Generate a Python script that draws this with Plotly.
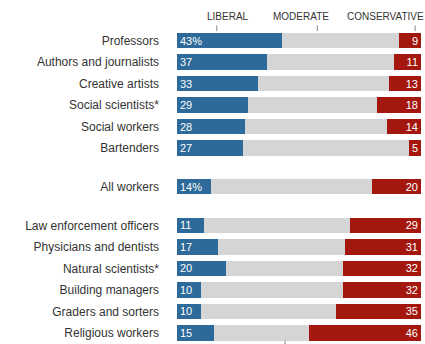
import plotly.graph_objects as go

# ---- data ----
group1 = ["Professors", "Authors and journalists", "Creative artists",
          "Social scientists*", "Social workers", "Bartenders"]
group1_lib = [43, 37, 33, 29, 28, 27]
group1_con = [9, 11, 13, 18, 14, 5]

group2 = ["All workers"]
group2_lib = [14]
group2_con = [20]

group3 = ["Law enforcement officers", "Physicians and dentists", "Natural scientists*",
          "Building managers", "Graders and sorters", "Religious workers"]
group3_lib = [11, 17, 20, 10, 10, 15]
group3_con = [29, 31, 32, 32, 35, 46]

header_labels = ["LIBERAL", "MODERATE", "CONSERVATIVE"]

# ---- build rows ----
groups = [(group1, group1_lib, group1_con),
          (group2, group2_lib, group2_con),
          (group3, group3_lib, group3_con)]
GAP = 0.8
cats, lib, con, ypos, ltxt = [], [], [], [], []
pos = 0.0
for gi, (names, l, c) in enumerate(groups):
    if gi > 0:
        pos += GAP
    for i, (n, lv, cv) in enumerate(zip(names, l, c)):
        cats.append(n)
        lib.append(lv)
        con.append(cv)
        ypos.append(pos)
        ltxt.append(f"{lv}%" if i == 0 and gi < 2 else str(lv))
        pos += 1
mod = [100 - a - b for a, b in zip(lib, con)]

BLUE = "#2d6a9a"
GRAY = "#d5d5d5"
RED = "#a3170f"
W = 0.72

fig = go.Figure()
fig.add_trace(go.Bar(y=ypos, x=lib, orientation="h", marker=dict(color=BLUE, line_width=0),
                     width=W, text=ltxt, textposition="inside", insidetextanchor="start",
                     textangle=0,
                     textfont=dict(color="white", size=11, family="Liberation Sans"),
                     hoverinfo="skip"))
fig.add_trace(go.Bar(y=ypos, x=mod, orientation="h", marker=dict(color=GRAY, line_width=0),
                     width=W, hoverinfo="skip"))
fig.add_trace(go.Bar(y=ypos, x=con, orientation="h", marker=dict(color=RED, line_width=0),
                     width=W, text=[str(v) for v in con], textposition="inside",
                     insidetextanchor="end", textangle=0,
                     textfont=dict(color="white", size=11, family="Liberation Sans"),
                     hoverinfo="skip"))

H = 344
TOP = 30
PH = H - TOP
slot = 21.5
first_center = 40.5
y_top = (TOP - first_center) / slot
y_bot = (H - first_center) / slot

fig.update_layout(
    barmode="stack",
    width=425, height=H,
    margin=dict(l=177, r=4, t=TOP, b=0),
    paper_bgcolor="white", plot_bgcolor="white",
    showlegend=False,
    font=dict(family="Liberation Sans", color="#333333"),
    uniformtext=dict(minsize=11, mode="show"),
)
fig.update_xaxes(range=[0, 100], visible=False, fixedrange=True)
fig.update_yaxes(range=[y_bot, y_top], tickvals=ypos, ticktext=cats,
                 showgrid=False, zeroline=False, showline=False,
                 ticks="", ticklabelstandoff=17, fixedrange=True,
                 tickfont=dict(size=12, color="#333333", family="Liberation Sans"))

# header labels and ticks
hdr_x = [20.7, 50.8, 68.9]
hdr_anchor = ["center", "center", "left"]
tick_x = [16.3, 57.5, 97.6]
for lab, hx, an in zip(header_labels, hdr_x, hdr_anchor):
    fig.add_annotation(x=hx, xref="x", y=1 + (TOP - 16.5) / PH, yref="paper",
                       text=lab, showarrow=False, xanchor=an, yanchor="middle",
                       font=dict(size=10, color="#333333", family="Liberation Sans"))
for tx in tick_x:
    fig.add_shape(type="line", x0=tx, x1=tx, xref="x",
                  y0=1 + (TOP - 25.5) / PH, y1=1 + (TOP - 31) / PH, yref="paper",
                  line=dict(color="#888888", width=1))
fig.add_shape(type="line", x0=44.3, x1=44.3, xref="x",
              y0=0, y1=3.5 / PH, yref="paper", line=dict(color="#888888", width=1))

fig.write_html(
    "out.html",
    config={"displayModeBar": False, "staticPlot": True},
    post_script="document.body.style.margin='0';document.body.style.overflow='hidden';",
)
